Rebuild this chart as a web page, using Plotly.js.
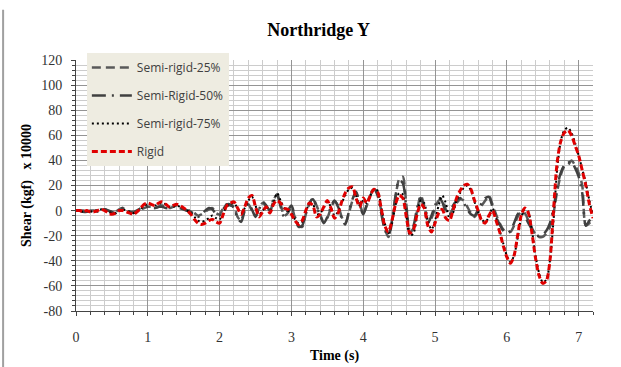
<!DOCTYPE html>
<html>
<head>
<meta charset="utf-8">
<script src="https://cdn.plot.ly/plotly-3.0.1.min.js"></script>
<style>html,body{margin:0;padding:0;background:#fff;}#chart{width:621px;height:367px;}</style>
</head>
<body>
<div id="chart"></div>
<script>
const timeStep = 0.05;
const sampleCount = 145;
const time = [];
for (let i = 0; i < sampleCount; i++) time.push(Math.round(i * timeStep * 100) / 100);

const seriesNames = ["Semi-rigid-25%", "Semi-Rigid-50%", "Semi-rigid-75%", "Rigid"];

// Shear (kgf x 10000), one row per second
const semiRigid25 = [
  0,0,0,-1,0,0,-1,0,1,0,-1,-1,1,2,0,-1,-1,0,1,2,
  3,3,2,3,4,3,2,3,4,3,1,0,0,-2,-4,-3,-1,1,2,-2,
  -3,2,5,4,3,-5,-8,2,5,0,-4,2,6,3,-1,8,13,5,-4,-2,
  3,-6,-12,-13,-3,5,10,4,-3,-9,-6,2,7,4,-5,-10,-2,8,14,6,
  -2,4,12,18,14,0,-14,-21,-10,10,25,27,5,-17,-14,0,12,4,-8,-6,
  2,8,9,1,-4,2,6,9,8,3,-2,-5,-1,4,8,12,5,-3,-10,-15,
  -17,-17,-12,-5,-1,-2,-8,-14,-19,-21,-21,-18,-13,-2,15,28,35,36,40,36,
  30,20,-12,-10,-6
];
const semiRigid50 = [
  0,0,-1,-1,0,0,0,0,1,0,-1,-2,0,2,1,-1,-2,0,2,3,
  3,2,2,3,3,2,2,4,4,2,1,0,-1,-3,-5,-3,0,2,1,-3,
  -4,1,5,5,2,-6,-9,0,6,1,-5,1,7,4,0,9,12,3,-5,0,
  4,-5,-13,-12,-2,6,9,3,-4,-10,-5,3,8,3,-6,-11,-1,9,15,5,
  -3,5,13,17,12,-2,-15,-20,-8,12,24,22,2,-16,-12,2,10,2,-10,-4,
  4,10,7,-1,-3,4,8,10,6,1,-3,-4,1,6,10,11,3,-5,-11,-16,
  -18,-16,-10,-3,0,-4,-10,-15,-20,-20,-19,-16,-10,2,18,30,36,38,39,34,
  27,14,-12,-8,-5
];
const semiRigid75 = [
  0,0,-1,0,-1,0,0,1,0,-1,-2,-2,0,1,0,-1,-2,-1,1,4,
  5,5,4,5,6,5,3,3,4,3,2,0,-2,-5,-8,-9,-8,-6,-4,-6,
  -7,-2,3,5,6,2,-2,2,8,11,4,-3,0,3,0,6,14,8,2,0,
  -2,-7,-10,-9,-1,5,5,-3,-2,2,7,3,-4,-1,6,12,17,18,12,4,
  8,6,12,17,16,4,-10,-18,-10,4,14,13,-4,-20,-18,-4,8,6,-8,-15,
  -8,4,12,6,-6,-2,8,14,18,20,16,7,-1,-7,-9,-5,2,-6,-16,-26,
  -36,-41,-36,-22,-6,1,-1,-16,-36,-50,-57,-55,-40,-8,32,55,64,66,62,54,
  44,33,22,8,-4
];
const rigid = [
  0,0,-1,0,-1,-1,0,1,0,-2,-3,-2,0,0,-1,-2,-3,-1,2,5,
  6,5,4,6,7,5,3,4,5,4,2,0,-3,-7,-10,-11,-10,-8,-7,-9,
  -10,-3,4,6,7,2,-3,3,10,12,3,-5,-1,3,-2,5,8,6,2,1,
  -3,-8,-11,-8,0,6,4,-5,-3,3,8,2,-6,-2,7,14,18,19,10,3,
  10,6,12,17,15,2,-12,-17,-8,5,12,10,-5,-18,-15,-3,5,2,-12,-17,
  -10,-2,1,-6,-8,0,10,16,20,21,17,8,0,-8,-10,-4,0,-8,-17,-28,
  -37,-42,-36,-20,-4,2,-2,-18,-38,-52,-58,-56,-40,0,38,55,62,64,60,52,
  44,32,20,5,-6
];

const xTickVals = [0,1,2,3,4,5,6,7];
const yTickVals = [-80,-60,-40,-20,0,20,40,60,80,100,120];

const styles = [
  {color:"#595959", width:2.5, dash:"9px,5px"},
  {color:"#404040", width:2.5, dash:"14px,6px,2px,6px"},
  {color:"#000000", width:2, dash:"2px,3px"},
  {color:"#e00000", width:3, dash:"6px,3px"}
];
const values = [semiRigid25, semiRigid50, semiRigid75, rigid];

const traces = values.map((v, i) => ({
  type: "scatter", mode: "lines", x: time, y: v, name: seriesNames[i],
  legendgroup: "g" + i, line: Object.assign({shape: "spline", smoothing: 0.8}, styles[i])
}));

const serif = "Liberation Serif, Times New Roman, serif";
const layout = {
  width: 621, height: 367,
  margin: {l: 76, r: 28, t: 60, b: 56},
  paper_bgcolor: "#ffffff", plot_bgcolor: "#ffffff",
  showlegend: true,
  title: {text: "<b>Northridge Y</b>", font: {family: serif, size: 18, color: "#000"},
          x: 0.513, xref: "container", xanchor: "center", y: 0.918, yanchor: "middle"},
  xaxis: {
    range: [0, 7.2], tickvals: xTickVals, ticktext: xTickVals.map(String),
    showgrid: true, gridcolor: "#949494", gridwidth: 1,
    minor: {dtick: 0.2, showgrid: true, gridcolor: "#cccccc", ticks: "outside", ticklen: 3, tickcolor: "#444"},
    showline: true, linecolor: "#444", linewidth: 1, ticks: "outside", ticklen: 4, tickcolor: "#444",
    zeroline: false, tickfont: {family: serif, size: 14, color: "#333"}, ticklabelstandoff: 9,
    title: {text: "<b>Time (s)</b>", font: {family: serif, size: 14, color: "#000"}, standoff: 6},
    automargin: false
  },
  yaxis: {
    range: [-80, 120], tickvals: yTickVals, ticktext: yTickVals.map(String),
    showgrid: true, gridcolor: "#949494", gridwidth: 1,
    minor: {dtick: 4, showgrid: true, gridcolor: "#cccccc", ticks: "outside", ticklen: 3, tickcolor: "#444"},
    showline: true, linecolor: "#444", linewidth: 1, ticks: "outside", ticklen: 4, tickcolor: "#444",
    zeroline: false, tickfont: {family: serif, size: 14, color: "#333"}, ticklabelstandoff: 6,
    title: {text: "<b>Shear (kgf)   x 10000</b>", font: {family: serif, size: 14, color: "#000"}, standoff: 6},
    automargin: false
  },
  legend: {
    x: 0.021, y: 1.028, xanchor: "left", yanchor: "top",
    bgcolor: "#eeece1", borderwidth: 0,
    font: {family: "Open Sans, Liberation Sans, sans-serif", size: 12, color: "#404040"},
    itemwidth: 40, tracegroupgap: 9, traceorder: "grouped"
  },
  shapes: [
    {type: "line", xref: "paper", yref: "paper", x0: -0.141, x1: -0.141, y0: -0.3, y1: 1.2,
     line: {color: "#a0a0a0", width: 2}}
  ]
};

Plotly.newPlot("chart", traces, layout, {displayModeBar: false, staticPlot: true});
</script>
</body>
</html>
